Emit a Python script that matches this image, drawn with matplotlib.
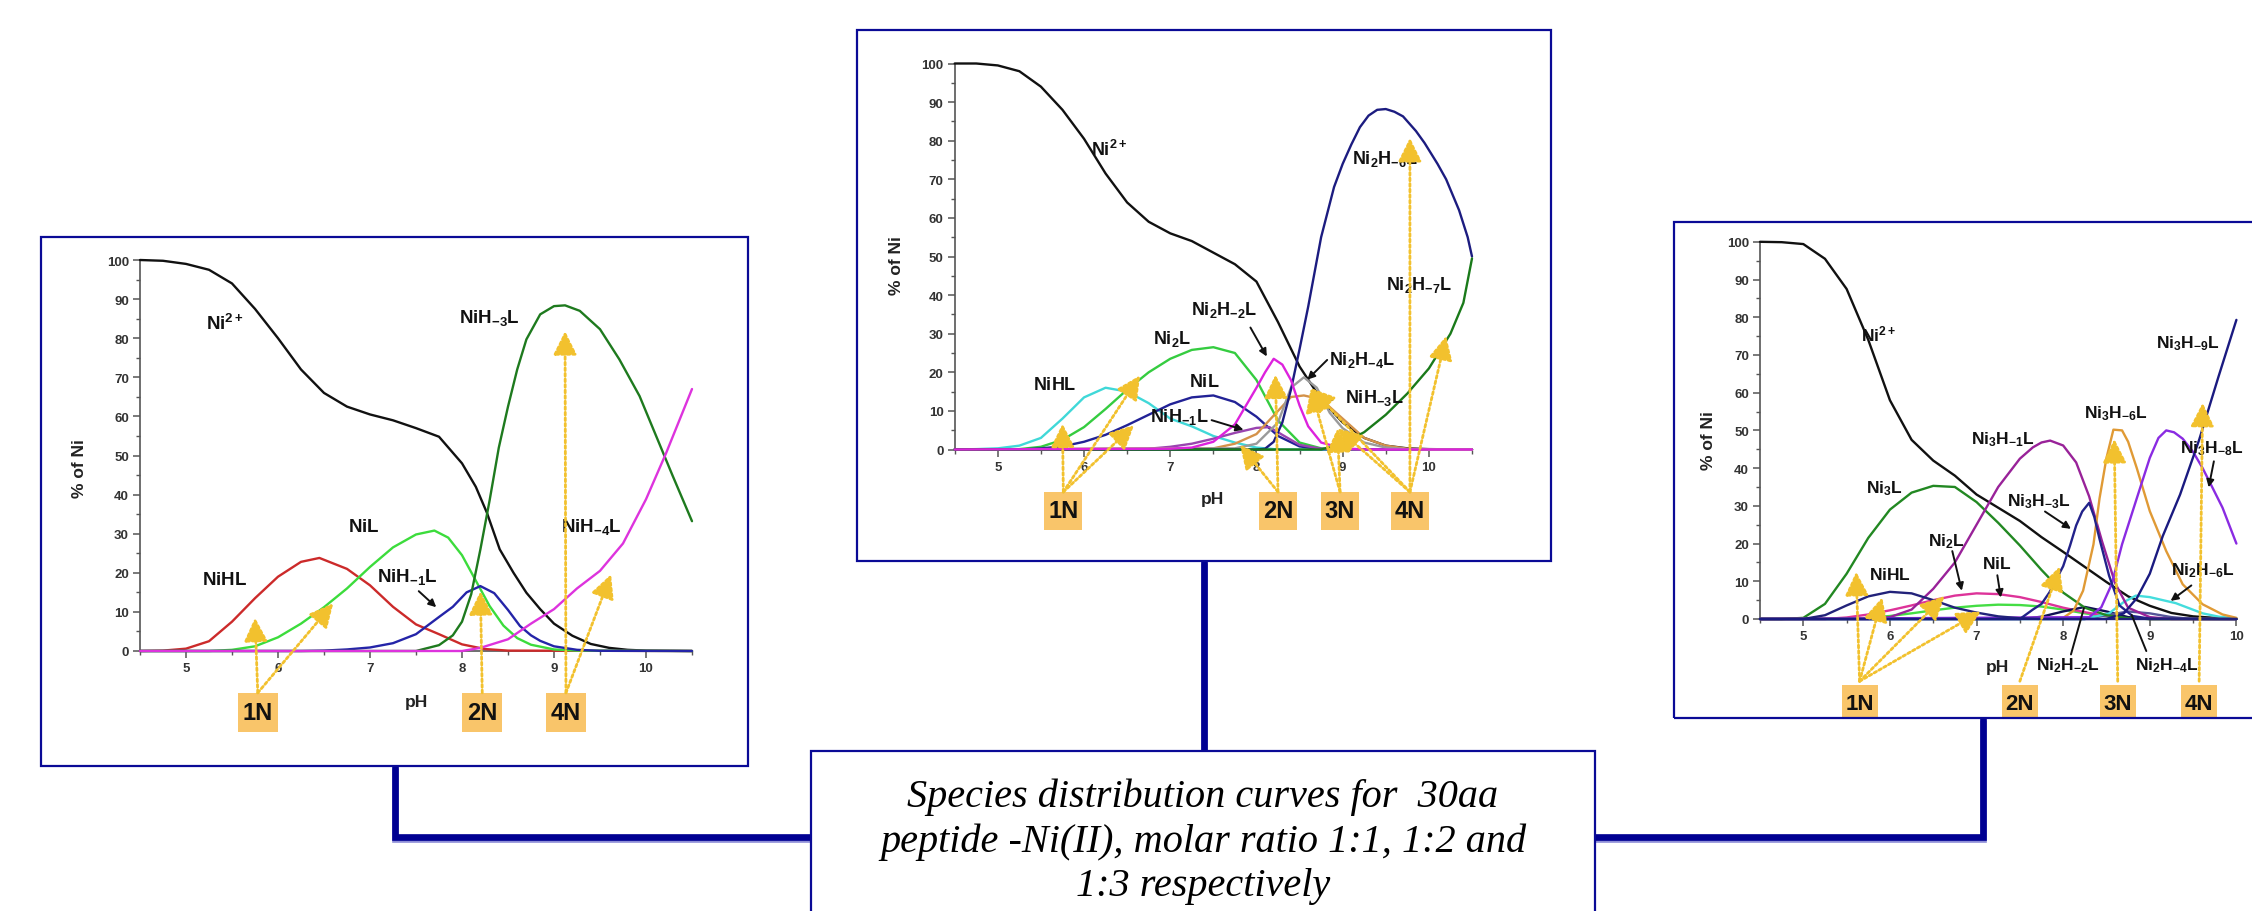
import matplotlib
matplotlib.use('Agg')
import matplotlib.pyplot as plt
from matplotlib.patches import Rectangle
from matplotlib.lines import Line2D
from matplotlib.ticker import MultipleLocator

plt.rcParams['font.family'] = ['Liberation Sans', 'DejaVu Sans']
plt.rcParams['mathtext.fontset'] = 'custom'
plt.rcParams['mathtext.rm'] = 'Liberation Sans'
plt.rcParams['mathtext.bf'] = 'Liberation Sans:bold'
plt.rcParams['mathtext.it'] = 'Liberation Sans:italic'

# ---------------- DATA ----------------
x_ticks = [5, 6, 7, 8, 9, 10]
y_ticks = [0, 10, 20, 30, 40, 50, 60, 70, 80, 90, 100]

# Panel 1 (molar ratio 1:1)
p1_ni_ph = [4.5, 4.75, 5.0, 5.25, 5.5, 5.75, 6.0, 6.25, 6.5, 6.75, 7.0, 7.25, 7.5, 7.75, 8.0, 8.15, 8.27, 8.41, 8.56, 8.7, 8.85, 9.0, 9.2, 9.4, 9.6, 9.8, 10.0, 10.5]
p1_ni = [100, 99.8, 99, 97.5, 94, 87.5, 80, 72, 66, 62.5, 60.5, 59, 57, 54.8, 48, 42, 35.4, 26, 20, 14.9, 10.7, 7, 3.9, 1.8, 0.8, 0.3, 0.1, 0]
p1_nihl_ph = [4.5, 4.75, 5.0, 5.25, 5.5, 5.75, 6.0, 6.25, 6.45, 6.75, 7.0, 7.25, 7.5, 7.75, 8.0, 8.25, 8.5, 10.5]
p1_nihl = [0, 0.1, 0.6, 2.5, 7.5, 13.5, 19, 22.8, 23.8, 21, 16.8, 11.3, 6.8, 4.3, 1.7, 0.5, 0.1, 0]
p1_nil_ph = [4.5, 5.25, 5.5, 5.75, 6.0, 6.25, 6.5, 6.75, 7.0, 7.25, 7.5, 7.7, 7.85, 8.0, 8.15, 8.3, 8.45, 8.6, 8.75, 9.0, 9.25, 10.5]
p1_nil = [0, 0, 0.3, 1.2, 3.5, 7, 11.2, 16, 21.5, 26.5, 29.8, 30.8, 29, 24.5, 18, 11.5, 6.5, 3.3, 1.6, 0.4, 0.1, 0]
p1_nih1l_ph = [4.5, 6.25, 6.5, 6.75, 7.0, 7.25, 7.5, 7.75, 7.9, 8.05, 8.2, 8.35, 8.5, 8.63, 8.75, 8.85, 9.0, 9.25, 9.5, 10.5]
p1_nih1l = [0, 0, 0.1, 0.4, 0.9, 2, 4.3, 8.7, 11.3, 15, 16.6, 14.8, 10.5, 6.4, 4, 2.6, 1.2, 0.3, 0.05, 0]
p1_nih3l_ph = [4.5, 7.5, 7.75, 7.9, 8.0, 8.1, 8.2, 8.3, 8.4, 8.5, 8.6, 8.7, 8.85, 9.0, 9.12, 9.28, 9.5, 9.71, 9.93, 10.14, 10.29, 10.5]
p1_nih3l = [0, 0, 1.5, 4, 7.5, 14.5, 26, 38.5, 52, 62.5, 72, 79.7, 86.1, 88.2, 88.4, 87, 82.3, 74.6, 65.2, 53.3, 44.8, 33.2]
p1_nih4l_ph = [4.5, 8.0, 8.2, 8.5, 8.75, 9.0, 9.25, 9.5, 9.75, 10.0, 10.22, 10.5]
p1_nih4l = [0, 0, 0.8, 3, 7, 10.7, 16, 20.5, 27.5, 38.8, 50.7, 67]

p1_lab_text = ['Ni^{2+}', 'NiH_{-3}L', 'NiL', 'NiHL', 'NiH_{-1}L', 'NiH_{-4}L']
p1_lab_ph = [5.42, 8.30, 6.93, 5.42, 7.41, 9.41]
p1_lab_y = [84, 85.4, 31.9, 18.4, 19.3, 31.9]
p1_ptr_from = [(7.53, 15.3)]
p1_ptr_to = [(7.72, 11.2)]
p1_box_ph = [5.78, 8.22, 9.13]
p1_box_text = ['1N', '2N', '4N']
p1_arr_box = [0, 0, 1, 2, 2]
p1_arr_ph = [5.75, 6.6, 8.2, 9.12, 9.62]
p1_arr_y = [8.5, 12.2, 15.3, 81.8, 19.6]

# Panel 2 (molar ratio 1:2)
p2_ni_ph = [4.5, 4.75, 5.0, 5.25, 5.5, 5.75, 6.0, 6.25, 6.5, 6.75, 7.0, 7.25, 7.5, 7.75, 8.0, 8.25, 8.5, 8.75, 9.0, 9.25, 9.5, 9.75, 10.0, 10.5]
p2_ni = [100, 100, 99.5, 98, 94, 88, 80.5, 71.5, 64, 59, 56, 54, 51, 48, 43.5, 33, 21.5, 13, 7, 3, 1, 0.3, 0.1, 0]
p2_nihl_ph = [4.5, 4.75, 5.0, 5.25, 5.5, 5.75, 6.0, 6.25, 6.5, 6.75, 7.0, 7.25, 7.5, 7.75, 8.0, 8.25, 10.5]
p2_nihl = [0, 0.1, 0.3, 1, 3, 8, 13.5, 16, 15, 12, 8, 6, 3.5, 1.8, 0.5, 0, 0]
p2_ni2l_ph = [4.5, 5.25, 5.5, 5.75, 6.0, 6.25, 6.5, 6.75, 7.0, 7.25, 7.5, 7.75, 8.0, 8.25, 8.5, 8.75, 9.0, 10.5]
p2_ni2l = [0, 0.1, 0.7, 2.5, 5.8, 10.5, 15.5, 20, 23.5, 25.8, 26.5, 25, 18, 7.5, 1.8, 0.3, 0.1, 0]
p2_nil_ph = [4.5, 5.25, 5.5, 5.75, 6.0, 6.25, 6.5, 6.75, 7.0, 7.25, 7.5, 7.75, 8.0, 8.25, 8.5, 8.75, 10.5]
p2_nil = [0, 0, 0.3, 0.8, 2, 3.8, 6.3, 9, 11.7, 13.5, 14, 12.3, 8.5, 3.5, 0.8, 0.1, 0]
p2_nih1l_ph = [4.5, 6.75, 7.0, 7.25, 7.5, 7.75, 8.0, 8.15, 8.3, 8.5, 8.75, 9.0, 10.5]
p2_nih1l = [0, 0.2, 0.7, 1.5, 2.8, 4.3, 5.6, 5.8, 3.8, 1.2, 0.2, 0, 0]
p2_ni2h2l_ph = [4.5, 7.0, 7.25, 7.5, 7.75, 8.0, 8.1, 8.2, 8.3, 8.4, 8.5, 8.6, 8.75, 9.0, 9.25, 10.5]
p2_ni2h2l = [0, 0.2, 0.5, 2, 6.5, 16, 20, 23.5, 22, 18, 11.4, 6, 1.8, 0.3, 0, 0]
p2_nih3l_ph = [4.5, 7.5, 7.75, 8.0, 8.25, 8.4, 8.55, 8.75, 9.0, 9.25, 9.5, 9.75, 10.0, 10.5]
p2_nih3l = [0, 0.3, 1.5, 4, 10, 13.6, 14, 13, 8, 3, 1, 0.2, 0, 0]
p2_ni2h4l_ph = [4.5, 7.75, 8.0, 8.25, 8.4, 8.55, 8.7, 8.85, 9.0, 9.25, 9.5, 9.75, 10.0, 10.5]
p2_ni2h4l = [0, 0.3, 1.5, 7, 16, 18.7, 16, 9.5, 5.5, 1.8, 0.5, 0.1, 0, 0]
p2_ni2h6l_ph = [4.5, 8.0, 8.1, 8.2, 8.3, 8.4, 8.5, 8.6, 8.75, 8.9, 9.0, 9.1, 9.2, 9.3, 9.4, 9.5, 9.6, 9.7, 9.85, 9.95, 10.1, 10.2, 10.35, 10.45, 10.5]
p2_ni2h6l = [0, 0, 0.2, 2, 7, 15.5, 26, 37, 55, 68, 74, 79, 83.5, 86.5, 88, 88.2, 87.5, 86.3, 82.5, 79.4, 74, 70, 62, 55, 50]
p2_ni2h7l_ph = [4.5, 8.75, 9.0, 9.25, 9.5, 9.75, 10.0, 10.25, 10.4, 10.5]
p2_ni2h7l = [0, 0, 1.5, 4.5, 9, 14.5, 21, 30, 38, 49.5]

p2_lab_text = ['Ni^{2+}', 'NiHL', 'Ni_{2}L', 'NiL', 'NiH_{-1}L', 'Ni_{2}H_{-2}L', 'Ni_{2}H_{-4}L', 'NiH_{-3}L', 'Ni_{2}H_{-6}L', 'Ni_{2}H_{-7}L']
p2_lab_ph = [6.29, 5.66, 7.02, 7.40, 7.10, 7.62, 9.23, 9.37, 9.49, 9.89]
p2_lab_y = [77.8, 16.9, 29.0, 17.6, 8.8, 36.5, 23.5, 13.5, 75.5, 43.0]
p2_ptr_from = [(7.93, 31.6), (8.82, 23.2), (8.88, 12.8), (7.48, 7.6)]
p2_ptr_to = [(8.12, 24.1), (8.59, 18.1), (8.63, 12.8), (7.85, 5.1)]
p2_box_ph = [5.76, 8.25, 8.97, 9.78]
p2_box_text = ['1N', '2N', '3N', '4N']
p2_arr_box = [0, 0, 0, 1, 1, 2, 2, 3, 3, 3, 3]
p2_arr_ph = [5.75, 6.65, 6.58, 7.81, 8.22, 8.63, 8.94, 9.78, 10.2, 8.94, 8.63]
p2_arr_y = [6.7, 19.2, 6.3, 1.2, 19.4, 15.9, 5.5, 80.7, 29.4, 5.5, 15.9]

# Panel 3 (molar ratio 1:3)
p3_ni_ph = [4.5, 4.75, 5.0, 5.25, 5.5, 5.75, 6.0, 6.25, 6.5, 6.75, 7.0, 7.25, 7.5, 7.75, 8.0, 8.25, 8.5, 8.75, 9.0, 9.25, 9.5, 9.75, 10.0]
p3_ni = [100, 99.9, 99.4, 95.5, 87.5, 74, 58, 47.5, 42, 38, 33, 29.5, 26, 21.7, 17.8, 13.8, 9.8, 6, 3.5, 1.6, 0.7, 0.3, 0.1]
p3_ni3l_ph = [4.5, 4.75, 5.0, 5.25, 5.5, 5.75, 6.0, 6.25, 6.5, 6.75, 7.0, 7.25, 7.5, 7.75, 8.0, 8.25, 8.5, 8.75, 9.0, 10.0]
p3_ni3l = [0, 0, 0.3, 4, 12, 21.5, 29, 33.5, 35.3, 35, 31, 25.5, 19.5, 13, 7, 3, 1, 0.2, 0, 0]
p3_nihl_ph = [4.5, 5.0, 5.25, 5.5, 5.75, 6.0, 6.25, 6.5, 6.75, 7.0, 7.25, 7.5, 7.75, 10.0]
p3_nihl = [0, 0, 1, 3.6, 6, 7.2, 6.8, 5, 3, 1.7, 0.7, 0.2, 0, 0]
p3_ni2l_ph = [4.5, 5.25, 5.5, 5.75, 6.0, 6.25, 6.5, 6.75, 7.0, 7.25, 7.5, 7.75, 8.0, 8.25, 8.5, 8.75, 9.0, 10.0]
p3_ni2l = [0, 0, 0.4, 1.2, 2.3, 3.6, 5, 6.2, 6.8, 6.6, 5.8, 4.5, 3, 1.8, 0.8, 0.3, 0, 0]
p3_nil_ph = [4.5, 5.5, 5.75, 6.0, 6.25, 6.5, 6.75, 7.0, 7.25, 7.5, 7.75, 8.0, 8.25, 8.5, 8.75, 9.0, 10.0]
p3_nil = [0, 0, 0.3, 0.8, 1.5, 2.3, 3, 3.5, 3.8, 3.7, 3.3, 2.5, 1.5, 0.7, 0.2, 0, 0]
p3_ni3h1l_ph = [4.5, 5.75, 6.0, 6.25, 6.5, 6.75, 7.0, 7.25, 7.5, 7.65, 7.75, 7.85, 8.0, 8.15, 8.3, 8.45, 8.6, 8.75, 9.0, 9.25, 10.0]
p3_ni3h1l = [0, 0, 0.5, 2.5, 8, 15, 25, 35, 42.5, 45.5, 46.8, 47.3, 46, 41.5, 32.5, 20.5, 9.5, 3, 0.5, 0, 0]
p3_ni3h3l_ph = [4.5, 7.5, 7.65, 7.75, 7.84, 7.92, 8.0, 8.08, 8.15, 8.22, 8.3, 8.36, 8.42, 8.53, 8.65, 8.8, 9.0, 10.0]
p3_ni3h3l = [0, 0, 2.5, 4, 7, 10.5, 14, 19.5, 24.8, 28.5, 30.8, 27, 21.2, 11.5, 3.6, 0.8, 0.1, 0]
p3_ni3h6l_ph = [4.5, 8.0, 8.12, 8.23, 8.35, 8.42, 8.5, 8.58, 8.68, 8.75, 8.85, 9.0, 9.19, 9.38, 9.61, 9.84, 10.0]
p3_ni3h6l = [0, 0.3, 2.2, 7.5, 19.8, 32, 42.7, 50.2, 50, 47, 40, 28.6, 18, 9.2, 3.9, 1.2, 0.3]
p3_ni3h8l_ph = [4.5, 8.3, 8.44, 8.56, 8.68, 8.85, 9.0, 9.1, 9.19, 9.28, 9.38, 9.5, 9.61, 9.72, 9.84, 10.0]
p3_ni3h8l = [0, 0.5, 3.1, 9.2, 19.8, 32, 42.7, 48, 50, 49.5, 47.8, 44.3, 40, 35, 29.5, 20]
p3_ni3h9l_ph = [4.5, 8.5, 8.7, 8.85, 9.0, 9.15, 9.35, 9.57, 9.79, 10.0]
p3_ni3h9l = [0, 0, 1.5, 5.5, 12, 22, 33, 47.5, 64, 79.3]
p3_ni2h6l_ph = [4.5, 8.25, 8.53, 8.7, 8.84, 9.0, 9.3, 9.61, 9.8, 10.0]
p3_ni2h6l = [0, 0, 1.5, 4.5, 6.2, 5.8, 4.2, 1.5, 0.6, 0.2]
p3_ni2h2l_ph = [4.5, 7.5, 7.75, 8.0, 8.25, 8.5, 8.75, 9.0, 10.0]
p3_ni2h2l = [0, 0, 0.6, 2, 3.2, 2, 0.5, 0, 0]
p3_ni2h4l_ph = [4.5, 8.25, 8.5, 8.75, 9.0, 9.25, 9.5, 10.0]
p3_ni2h4l = [0, 0, 1, 2, 1.5, 0.5, 0, 0]

p3_lab_text = ['Ni^{2+}', 'Ni_{3}H_{-9}L', 'Ni_{3}H_{-6}L', 'Ni_{3}H_{-1}L', 'Ni_{3}H_{-8}L', 'Ni_{3}H_{-3}L', 'Ni_{3}L', 'Ni_{2}L', 'NiL', 'NiHL', 'Ni_{2}H_{-6}L', 'Ni_{2}H_{-2}L', 'Ni_{2}H_{-4}L']
p3_lab_ph = [5.87, 9.44, 8.61, 7.31, 9.72, 7.72, 5.94, 6.65, 7.23, 6.0, 9.61, 8.05, 9.2]
p3_lab_y = [75.6, 73.3, 54.6, 47.7, 45.4, 31.3, 34.9, 20.7, 14.8, 12.0, 13.0, -12.2, -12.2]
p3_ptr_from = [(9.74, 41.8), (7.79, 28.5), (6.72, 18), (7.24, 11.6), (9.48, 8.9)]
p3_ptr_to = [(9.68, 34.9), (8.09, 23.9), (6.83, 7.5), (7.28, 5.7), (9.24, 4.8)]
p3_line_from = [(8.09, -9.4), (8.96, -8.5)]
p3_line_to = [(8.24, 2.9), (8.79, 1.1)]
p3_box_ph = [5.65, 7.5, 8.63, 9.57]
p3_box_text = ['1N', '2N', '3N', '4N']
p3_arr_box = [0, 0, 0, 0, 1, 2, 3]
p3_arr_ph = [5.61, 5.91, 6.63, 7.05, 7.96, 8.59, 9.61]
p3_arr_y = [12.5, 5.7, 6.1, 2.0, 13.9, 47.7, 57.3]

caption_lines = ["Species distribution curves for  30aa",
                 "peptide -Ni(II), molar ratio 1:1, 1:2 and",
                 "1:3 respectively"]

# ---------------- STYLE / LAYOUT ----------------
W, H = 2252, 912
NAVY = '#0a0a96'
GOLD = '#f2c12e'
BOXC = '#f9c56a'

fig = plt.figure(figsize=(W / 100, H / 100), dpi=100)
fig.patch.set_facecolor('white')


def frect(x0, y0, x1, y1):
    return [x0 / W, 1 - y1 / H, (x1 - x0) / W, (y1 - y0) / H]


def fig_line(pts, lw=4.8, color='#000092', z=1):
    xs = [p[0] / W for p in pts]
    ys = [1 - p[1] / H for p in pts]
    fig.add_artist(Line2D(xs, [y - 1.5 / H for y in ys], transform=fig.transFigure,
                          lw=lw, color='#8f8fd8', solid_joinstyle='miter', solid_capstyle='butt', zorder=z - 0.1))
    fig.add_artist(Line2D(xs, ys, transform=fig.transFigure, lw=lw, color=color,
                          solid_joinstyle='miter', solid_capstyle='butt', zorder=z))


def fig_box(x0, y0, x1, y1, fill=False, z=2):
    r = Rectangle((x0 / W, 1 - y1 / H), (x1 - x0) / W, (y1 - y0) / H, transform=fig.transFigure,
                  fill=fill, facecolor='white', edgecolor=NAVY, lw=1.6, zorder=z)
    fig.add_artist(r)


# connectors
fig_line([(395, 767), (395, 838), (811, 838)])
fig_line([(1204, 562), (1204, 752)])
fig_line([(1983, 719), (1983, 838), (1595, 838)])

# panel frames and caption box
fig_box(41, 238, 748, 767)
fig_box(857, 31, 1551, 562)
fig_box(1674, 223, 2270, 719)
fig_box(811, 752, 1595, 930, fill=True, z=3)

fig.text(1203 / W, 1 - 842 / H, "\n".join(caption_lines), ha='center', va='center',
         fontsize=29, family=['Liberation Serif', 'DejaVu Serif'], style='italic',
         linespacing=1.25, zorder=4)


def mt(s):
    return r'$\mathbf{' + s + '}$'


def setup_axes(ax, xmax):
    ax.set_xlim(4.5, xmax)
    ax.set_ylim(0, 100)
    ax.set_facecolor('none')
    for s in ['top', 'right']:
        ax.spines[s].set_visible(False)
    for s in ['left', 'bottom']:
        ax.spines[s].set_color('#555555')
        ax.spines[s].set_linewidth(1.2)
    ax.set_xticks(x_ticks)
    ax.set_yticks(y_ticks)
    ax.xaxis.set_minor_locator(MultipleLocator(0.5))
    ax.yaxis.set_minor_locator(MultipleLocator(5))
    ax.tick_params(which='major', direction='out', length=5, width=1.1, color='#555555',
                   labelsize=9.5, labelcolor='#333333', pad=3)
    ax.tick_params(which='minor', direction='out', length=3, width=1.0, color='#555555')
    for t in ax.get_xticklabels() + ax.get_yticklabels():
        t.set_fontweight('bold')


def draw_curves(ax, curves):
    for ph, v, c in curves:
        ax.plot(ph, v, color=c, lw=1.7, clip_on=False, solid_capstyle='round',
                solid_joinstyle='round', zorder=3)


def draw_labels(ax, texts, phs, ys, fs):
    for s, x, y in zip(texts, phs, ys):
        ax.text(x, y, mt(s), fontsize=fs, ha='center', va='center', color='#111111',
                clip_on=False, zorder=6)


def draw_pointers(ax, froms, tos, style='-|>'):
    for a, b in zip(froms, tos):
        ax.annotate('', xy=b, xytext=a, annotation_clip=False,
                    arrowprops=dict(arrowstyle=style, color='#111111', lw=1.4,
                                    mutation_scale=11, shrinkA=0, shrinkB=0), zorder=6)


def draw_boxes(ax, phs, texts, w, ybot, ytop, ytext, fs=17):
    for x, s in zip(phs, texts):
        ax.add_patch(Rectangle((x - w / 2, ybot), w, ytop - ybot, facecolor=BOXC, edgecolor='none',
                               clip_on=False, zorder=5))
        ax.text(x, ytext, s, fontsize=fs, fontweight='bold', ha='center', va='center',
                color='#111111', clip_on=False, zorder=6)


def draw_arrows(ax, box_ph, idx, phs, ys, ytail):
    for i, x, y in zip(idx, phs, ys):
        ax.annotate('', xy=(x, y), xytext=(box_ph[i], ytail), annotation_clip=False,
                    arrowprops=dict(arrowstyle='-|>,head_length=0.8,head_width=0.4',
                                    color=GOLD, lw=2.0, linestyle=(0, (1, 1)),
                                    mutation_scale=18, shrinkA=0, shrinkB=0), zorder=7)


def axis_titles(ax, xl, yl, fs=12.5):
    ax.text(xl[0], xl[1], 'pH', fontsize=fs, fontweight='bold', ha='center', va='center',
            color='#222222', clip_on=False)
    ax.text(yl[0], yl[1], '% of Ni', fontsize=fs, fontweight='bold', ha='center', va='center',
            rotation=90, color='#222222', clip_on=False)


# ---------------- PANEL 1 ----------------
ax1 = fig.add_axes(frect(140, 261, 692, 652))
setup_axes(ax1, 10.5)
draw_curves(ax1, [
    (p1_ni_ph, p1_ni, '#111111'),
    (p1_nihl_ph, p1_nihl, '#cc2a2a'),
    (p1_nil_ph, p1_nil, '#3cdc3c'),
    (p1_nih1l_ph, p1_nih1l, '#2424a8'),
    (p1_nih3l_ph, p1_nih3l, '#1e7a1e'),
    (p1_nih4l_ph, p1_nih4l, '#dd33dd'),
])
draw_labels(ax1, p1_lab_text, p1_lab_ph, p1_lab_y, 13.5)
draw_pointers(ax1, p1_ptr_from, p1_ptr_to)
draw_boxes(ax1, p1_box_ph, p1_box_text, 0.435, -20.7, -10.7, -15.7)
draw_arrows(ax1, p1_box_ph, p1_arr_box, p1_arr_ph, p1_arr_y, -10.7)
axis_titles(ax1, (7.5, -13.0), (3.84, 46.8))

# ---------------- PANEL 2 ----------------
ax2 = fig.add_axes(frect(954.7, 64.5, 1472, 450.5))
setup_axes(ax2, 10.5)
draw_curves(ax2, [
    (p2_ni_ph, p2_ni, '#111111'),
    (p2_nihl_ph, p2_nihl, '#40d8d8'),
    (p2_ni2l_ph, p2_ni2l, '#35cc40'),
    (p2_nil_ph, p2_nil, '#222296'),
    (p2_nih1l_ph, p2_nih1l, '#9a44b0'),
    (p2_nih3l_ph, p2_nih3l, '#d4924a'),
    (p2_ni2h4l_ph, p2_ni2h4l, '#9a9a9a'),
    (p2_ni2h6l_ph, p2_ni2h6l, '#1c1c80'),
    (p2_ni2h7l_ph, p2_ni2h7l, '#1a7a1a'),
    (p2_ni2h2l_ph, p2_ni2h2l, '#dd22dd'),
])
draw_labels(ax2, p2_lab_text, p2_lab_ph, p2_lab_y, 13)
draw_pointers(ax2, p2_ptr_from, p2_ptr_to)
draw_boxes(ax2, p2_box_ph, p2_box_text, 0.44, -20.8, -11.0, -15.9)
draw_arrows(ax2, p2_box_ph, p2_arr_box, p2_arr_ph, p2_arr_y, -11.0)
axis_titles(ax2, (7.49, -12.6), (3.82, 47.8))

# ---------------- PANEL 3 ----------------
ax3 = fig.add_axes(frect(1760, 242.8, 2236.4, 620))
setup_axes(ax3, 10.0)
draw_curves(ax3, [
    (p3_ni_ph, p3_ni, '#111111'),
    (p3_nil_ph, p3_nil, '#44dd44'),
    (p3_ni2l_ph, p3_ni2l, '#dd3399'),
    (p3_ni2h2l_ph, p3_ni2h2l, '#111155'),
    (p3_ni2h4l_ph, p3_ni2h4l, '#555599'),
    (p3_ni2h6l_ph, p3_ni2h6l, '#44dddd'),
    (p3_ni3l_ph, p3_ni3l, '#228822'),
    (p3_ni3h1l_ph, p3_ni3h1l, '#992299'),
    (p3_ni3h6l_ph, p3_ni3h6l, '#e09a35'),
    (p3_ni3h8l_ph, p3_ni3h8l, '#8a2be2'),
    (p3_ni3h3l_ph, p3_ni3h3l, '#22228a'),
    (p3_nihl_ph, p3_nihl, '#22227a'),
    (p3_ni3h9l_ph, p3_ni3h9l, '#1a1a80'),
])
draw_labels(ax3, p3_lab_text, p3_lab_ph, p3_lab_y, 12.5)
draw_pointers(ax3, p3_ptr_from, p3_ptr_to)
draw_pointers(ax3, p3_line_from, p3_line_to, style='-')
draw_boxes(ax3, p3_box_ph, p3_box_text, 0.415, -26.0, -17.6, -22.5, fs=16)
draw_arrows(ax3, p3_box_ph, p3_arr_box, p3_arr_ph, p3_arr_y, -16.5)
axis_titles(ax3, (7.24, -12.7), (3.91, 47.7))

fig.savefig('out.png', dpi=100)
